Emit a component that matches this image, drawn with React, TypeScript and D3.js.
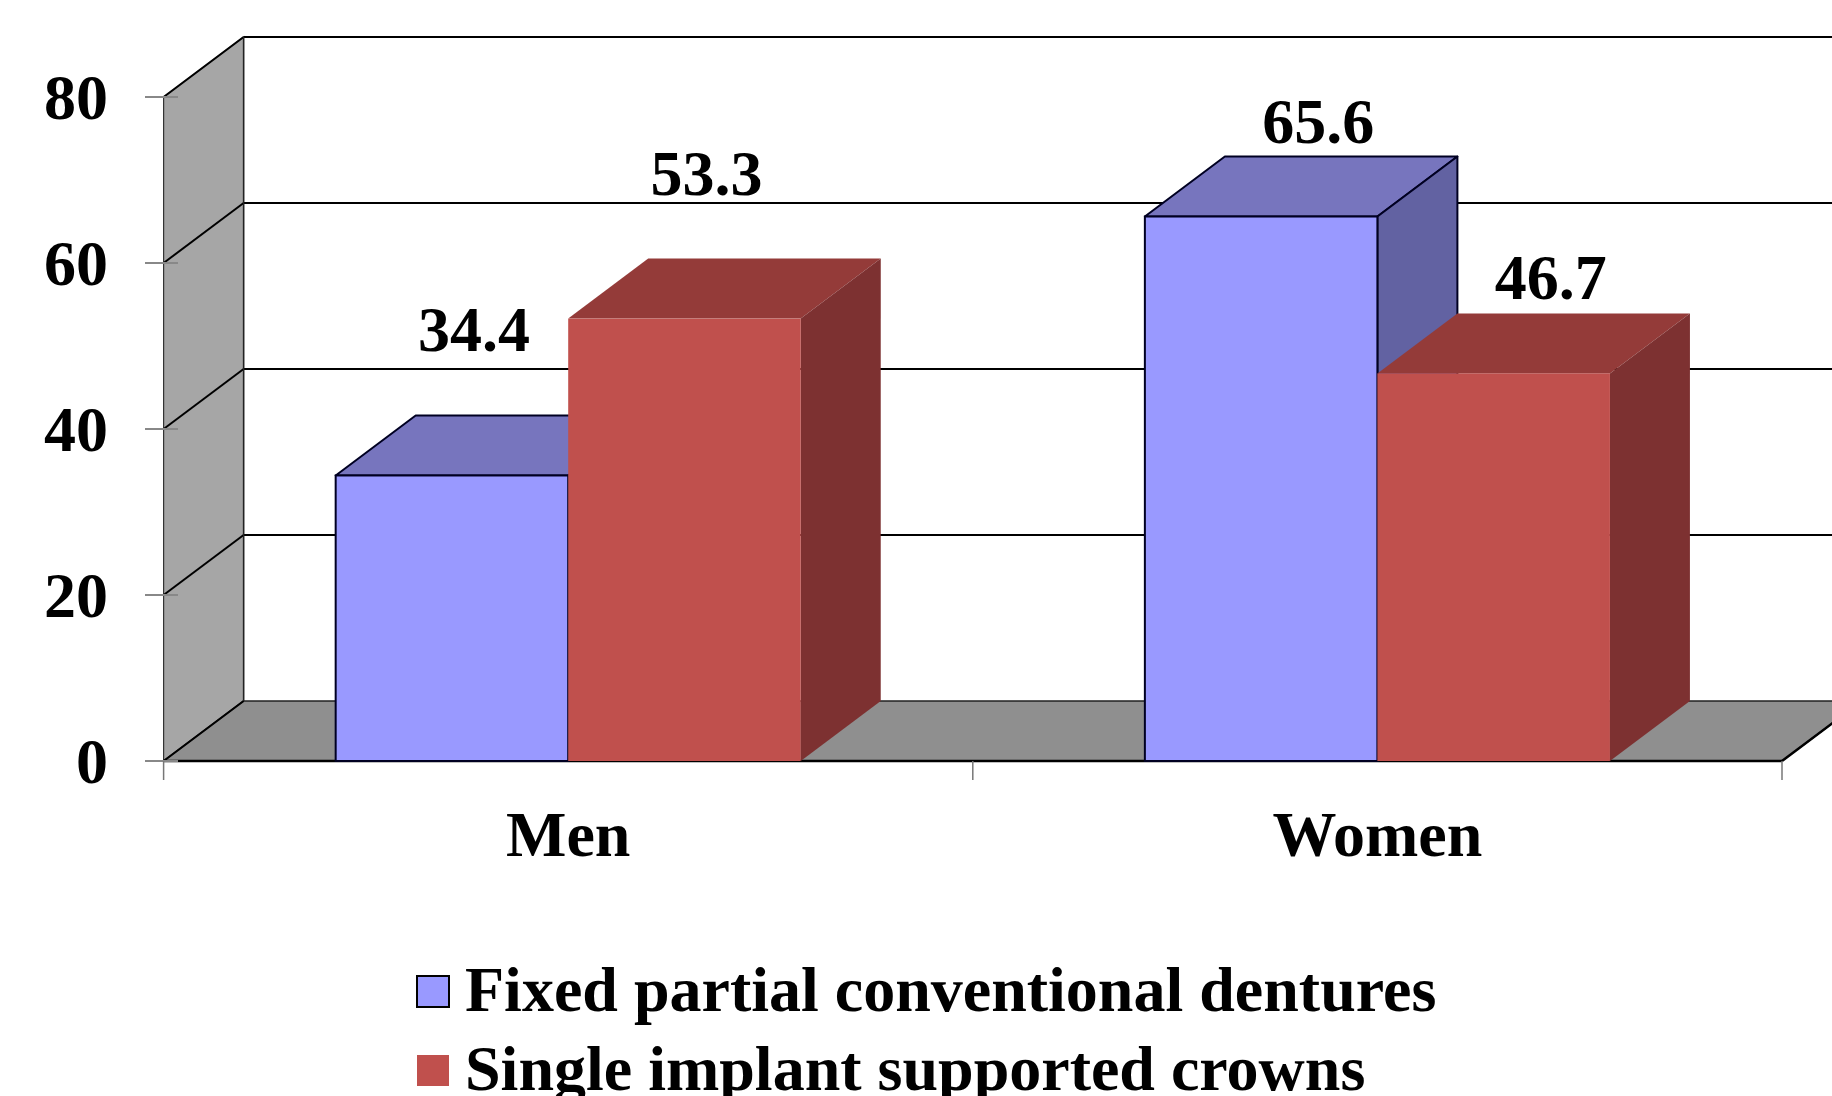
import React from 'react';
import * as d3 from 'd3';

// --- data ---
const categories = ['Men', 'Women'];
const seriesNames = ['Fixed partial conventional dentures', 'Single implant supported crowns'];
const fixedPartial = [34.4, 65.6];
const singleImplant = [53.3, 46.7];
const yTicks = [0, 20, 40, 60, 80];

const W = 1832;
const H = 1096;
const DX = 80;   // 3d depth offset
const DY = -60;
const FONT = '"Liberation Serif", "Times New Roman", serif';

const palette = [
    { front: '#9999FF', top: '#7775BE', side: '#6262A2', stroke: '#000022' },
    { front: '#C0504D', top: '#943B39', side: '#7D3131', stroke: 'none' },
];

// label nudges (Excel places 3d labels a bit off)
const labelShift: Record<string, [number, number]> = { Men: [22, 124], Women: [57, 74] };

const App: React.FC = () => {
    const x0 = d3.scaleBand<string>().domain(categories).range([163.6, 1782]);
    const x1 = d3.scaleBand<string>().domain(seriesNames).range([0, x0.bandwidth()]).paddingOuter(0.74);
    const y = d3.scaleLinear().domain([0, 80]).range([761, 97]);

    const y0 = y(0);
    const yTop = y(80);
    const left = x0.range()[0];
    const right = x0.range()[1];

    const bars = categories.flatMap((c, ci) =>
        [fixedPartial, singleImplant].map((vals, si) => ({
            cat: c,
            s: si,
            v: vals[ci],
            x: (x0(c) || 0) + (x1(seriesNames[si]) || 0),
            w: x1.bandwidth(),
        }))
    );

    return (
        <svg width={W} height={H} style={{ position: 'absolute', left: 0, top: 0, background: '#fff' }}>
            {/* back wall */}
            <rect x={left + DX} y={yTop + DY} width={W} height={y0 - yTop} fill="#fff" />
            {/* left wall */}
            <polygon
                points={`${left},${y0} ${left},${yTop} ${left + DX},${yTop + DY} ${left + DX},${y0 + DY}`}
                fill="#A6A6A6" stroke="#333" strokeWidth={1.2}
            />
            {/* floor */}
            <polygon
                points={`${left},${y0} ${right},${y0} ${right + DX},${y0 + DY} ${left + DX},${y0 + DY}`}
                fill="#8F8F8F" stroke="#222" strokeWidth={1.5}
            />
            <line x1={left} x2={right} y1={y0} y2={y0} stroke="#000" strokeWidth={2.5} />
            <line x1={right} x2={right + DX} y1={y0} y2={y0 + DY} stroke="#000" strokeWidth={2.5} />

            {/* gridlines */}
            {yTicks.map(t => (
                <g key={t}>
                    {t > 0 && (
                        <line x1={left + DX} x2={W} y1={y(t) + DY} y2={y(t) + DY} stroke="#000" strokeWidth={2} />
                    )}
                    <line x1={left} x2={left + DX} y1={y(t)} y2={y(t) + DY} stroke="#000" strokeWidth={2} />
                    <line x1={145} x2={178} y1={y(t)} y2={y(t)} stroke="#888" strokeWidth={2} />
                    <text x={108} y={y(t) + 22} textAnchor="end" fontFamily={FONT} fontWeight="bold" fontSize={64}>
                        {t}
                    </text>
                </g>
            ))}
            <line x1={left + DX} x2={left + DX} y1={yTop + DY} y2={y0 + DY} stroke="#222" strokeWidth={1.5} />

            {/* category ticks */}
            {[...categories.map(c => x0(c) || 0), right].map((tx, i) => (
                <line key={i} x1={tx} x2={tx} y1={y0} y2={y0 + 19} stroke="#777" strokeWidth={1.5} />
            ))}

            {/* bars */}
            {bars.map((b, i) => {
                const c = palette[b.s];
                const yt = y(b.v);
                const sw = c.stroke === 'none' ? 0 : 2;
                return (
                    <g key={i}>
                        <polygon
                            points={`${b.x},${yt} ${b.x + DX},${yt + DY} ${b.x + b.w + DX},${yt + DY} ${b.x + b.w},${yt}`}
                            fill={c.top} stroke={c.stroke} strokeWidth={sw} strokeLinejoin="round"
                        />
                        <polygon
                            points={`${b.x + b.w},${yt} ${b.x + b.w + DX},${yt + DY} ${b.x + b.w + DX},${y0 + DY} ${b.x + b.w},${y0}`}
                            fill={c.side} stroke={c.stroke} strokeWidth={sw} strokeLinejoin="round"
                        />
                        <rect x={b.x} y={yt} width={b.w} height={y0 - yt} fill={c.front} stroke={c.stroke} strokeWidth={sw} />
                    </g>
                );
            })}

            {/* value labels */}
            {bars.map((b, i) => (
                <text
                    key={i}
                    x={b.x + b.w / 2 + labelShift[b.cat][0]}
                    y={y(b.v) - labelShift[b.cat][1]}
                    textAnchor="middle" fontFamily={FONT} fontWeight="bold" fontSize={64}
                >
                    {b.v.toFixed(1)}
                </text>
            ))}

            {/* category labels */}
            {categories.map(c => (
                <text key={c} x={(x0(c) || 0) + x0.bandwidth() / 2} y={856}
                    textAnchor="middle" fontFamily={FONT} fontWeight="bold" fontSize={64}>
                    {c}
                </text>
            ))}

            {/* legend */}
            {seriesNames.map((s, i) => (
                <g key={s} transform={`translate(417, ${976 + i * 79})`}>
                    <rect x={0} y={0} width={32} height={31} fill={palette[i].front}
                        stroke={i === 0 ? '#000' : 'none'} strokeWidth={2} />
                    <text x={48} y={35} fontFamily={FONT} fontWeight="bold" fontSize={64}>{s}</text>
                </g>
            ))}
        </svg>
    );
};

export default App;
